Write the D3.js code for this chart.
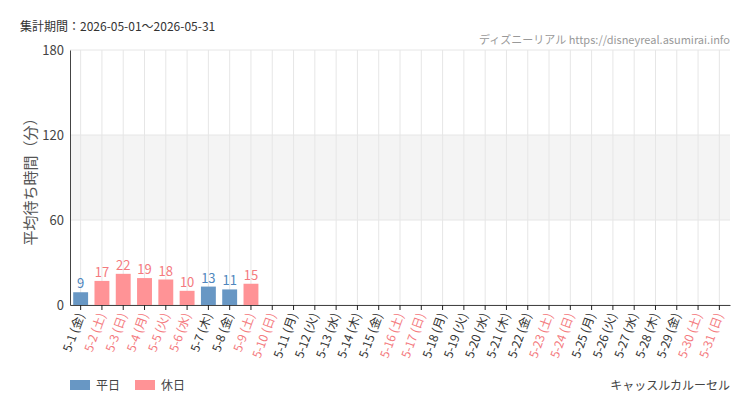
<!DOCTYPE html><html><head><meta charset="utf-8"><script src="https://cdn.jsdelivr.net/npm/d3@7"></script>
<style>body{margin:0;background:#fff}text{font-family:"Noto Sans CJK JP","Noto Sans",sans-serif}</style></head><body><svg width="750" height="410"></svg><script>
const days=["金","土","日","月","火","水","木"];
const categories=d3.range(1,32).map(d=>`5-${d} (${days[(d-1)%7]})`);
const holidays=[2,3,4,5,6,9,10,16,17,23,24,30,31];
const values=[9,17,22,19,18,10,13,11,15];
const yTicks=[0,60,120,180];
const svg=d3.select("svg");
const m={l:70,r:730,t:50,b:305};
const x=d3.scaleBand().domain(categories).range([m.l,m.r]).paddingInner(0.3).paddingOuter(0.15);
const y=d3.scaleLinear().domain([0,180]).range([m.b,m.t]);
const isHol=i=>holidays.includes(i+1);
const blue="#6897c4",red="#ff9396",redT="#f47a7e";
svg.append("rect").attr("x",m.l).attr("width",m.r-m.l).attr("y",y(120)).attr("height",y(60)-y(120)).attr("fill","#f4f4f4");
categories.forEach(c=>svg.append("line").attr("x1",x(c)+x.bandwidth()/2).attr("x2",x(c)+x.bandwidth()/2).attr("y1",m.t).attr("y2",m.b).attr("stroke","#e6e6e6"));
yTicks.forEach(t=>svg.append("line").attr("x1",m.l).attr("x2",m.r).attr("y1",y(t)).attr("y2",y(t)).attr("stroke","#e6e6e6"));
values.forEach((v,i)=>{const c=categories[i];
svg.append("rect").attr("x",x(c)).attr("width",x.bandwidth()).attr("y",y(v)).attr("height",y(0)-y(v)).attr("fill",isHol(i)?red:blue);
svg.append("text").attr("x",x(c)+x.bandwidth()/2).attr("y",y(v)-4).attr("text-anchor","middle").attr("font-size",13).attr("font-family","Liberation Sans Narrow,DejaVu Sans Condensed").attr("fill",isHol(i)?redT:"#4f86bd").text(v);});
const ya=svg.append("g").attr("transform",`translate(${m.l},0)`).call(d3.axisLeft(y).tickValues(yTicks).tickSize(0).tickPadding(6));
ya.select(".domain").attr("stroke","#444");ya.selectAll("text").attr("font-size",13).attr("fill","#444").attr("font-family","Roboto");
const xa=svg.append("g").attr("transform",`translate(0,${m.b})`).call(d3.axisBottom(x).tickSize(5).tickSizeOuter(0));
xa.select(".domain").attr("stroke","#444");xa.selectAll("line").attr("stroke","#222");
xa.selectAll("text").attr("font-size",12).attr("fill",(d,i)=>isHol(i)?redT:"#333").attr("text-anchor","end").attr("dy",0).attr("transform","translate(4,10) rotate(-70)").attr("y",0).attr("x",0);
svg.append("text").attr("transform","translate(36,178) rotate(-90)").attr("text-anchor","middle").attr("font-size",15).attr("fill","#555").text("平均待ち時間（分）");
svg.append("text").attr("x",20).attr("y",31).attr("font-size",12).attr("fill","#333").text("集計期間：2026-05-01〜2026-05-31");
svg.append("text").attr("x",730).attr("y",44).attr("text-anchor","end").attr("font-size",11).attr("fill","#999").text("ディズニーリアル https://disneyreal.asumirai.info");
svg.append("text").attr("x",730).attr("y",390).attr("text-anchor","end").attr("font-size",12).attr("fill","#444").text("キャッスルカルーセル");
[[blue,"平日",70],[red,"休日",135]].forEach(([c,t,xx])=>{svg.append("rect").attr("x",xx).attr("y",380).attr("width",20).attr("height",10).attr("fill",c);
svg.append("text").attr("x",xx+26).attr("y",390).attr("font-size",12).attr("fill","#444").text(t);});
</script></body></html>
